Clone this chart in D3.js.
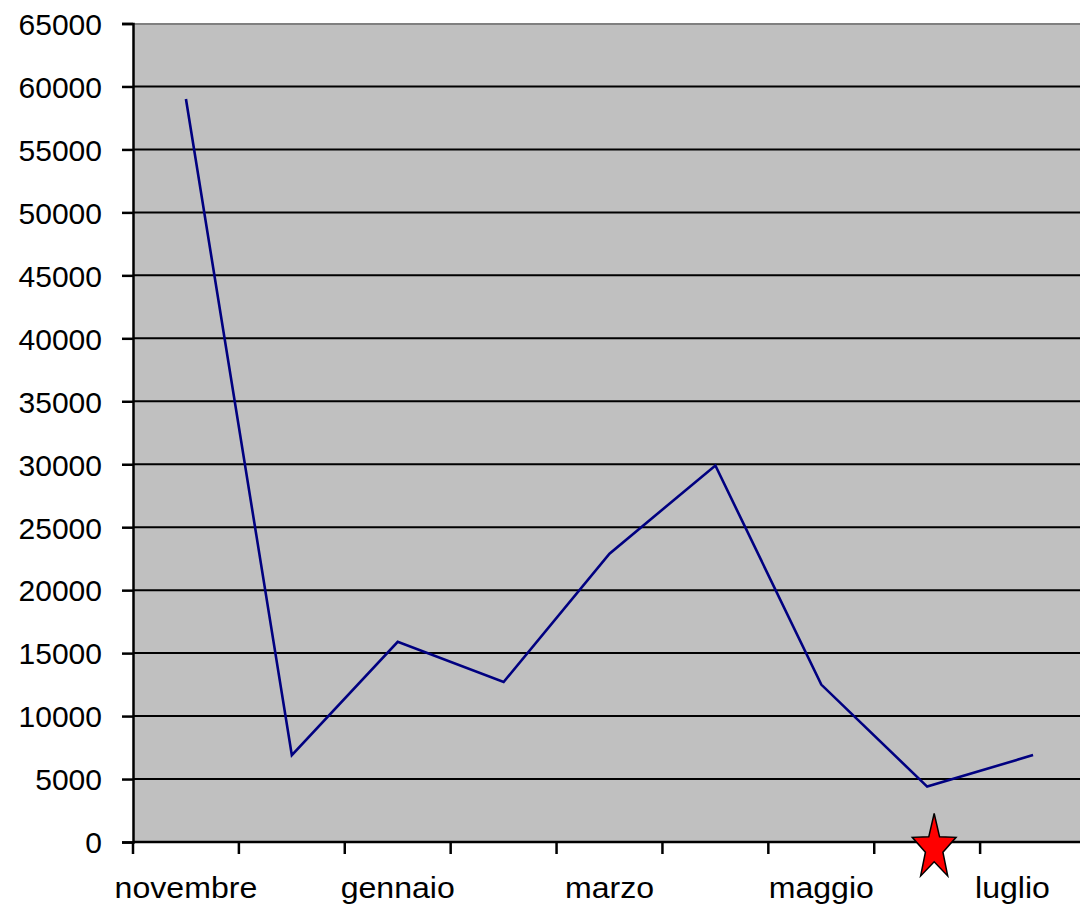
<!DOCTYPE html>
<html>
<head>
<meta charset="utf-8">
<script src="https://cdn.jsdelivr.net/npm/d3@7/dist/d3.min.js"></script>
<style>
  html, body { margin: 0; padding: 0; background: #ffffff; }
  svg { display: block; }
  text { font-family: "Liberation Sans", Arial, sans-serif; fill: #000; }
</style>
</head>
<body>
<svg id="chart" width="1080" height="912"></svg>
<script>
// Monthly values, November through July
const months = ["novembre", "dicembre", "gennaio", "febbraio", "marzo", "aprile", "maggio", "giugno", "luglio"];
const values = [59000, 6900, 15900, 12700, 22900, 29900, 12500, 4400, 6900];
const yTicks = [0, 5000, 10000, 15000, 20000, 25000, 30000, 35000, 40000, 45000, 50000, 55000, 60000, 65000];
const shownMonths = ["novembre", "gennaio", "marzo", "maggio", "luglio"];
const starMonth = "giugno";

const svg = d3.select("#chart");
const plotLeft = 133, plotRight = 1086, plotTop = 23.5, plotBottom = 842;
const labelLimit = 1050; // category labels stay left of this edge

const x = d3.scaleBand().domain(months).range([plotLeft, plotRight]).padding(0);
const y = d3.scaleLinear().domain([0, 65000]).range([plotBottom, plotTop]);
const cx = m => x(m) + x.bandwidth() / 2;

// plot area
svg.append("rect")
  .attr("x", plotLeft).attr("y", plotTop)
  .attr("width", plotRight - plotLeft).attr("height", plotBottom - plotTop)
  .attr("fill", "#c0c0c0");
svg.append("line")
  .attr("x1", plotLeft).attr("x2", plotRight)
  .attr("y1", plotTop + 0.5).attr("y2", plotTop + 0.5)
  .attr("stroke", "#808080").attr("stroke-width", 2);

// horizontal gridlines
svg.append("g").selectAll("line")
  .data(yTicks.filter(t => t > 0 && t < 65000))
  .join("line")
  .attr("x1", plotLeft).attr("x2", plotRight)
  .attr("y1", d => y(d)).attr("y2", d => y(d))
  .attr("stroke", "#000").attr("stroke-width", 2);

// y axis
const yAxis = svg.append("g")
  .attr("transform", `translate(${plotLeft},0)`)
  .call(d3.axisLeft(y).tickValues(yTicks).tickSize(11).tickPadding(20).tickFormat(d3.format("d")));
yAxis.select(".domain").attr("stroke", "#000").attr("stroke-width", 2.5);
yAxis.selectAll(".tick line").attr("stroke", "#000").attr("stroke-width", 2.5);
yAxis.selectAll(".tick text")
  .attr("font-size", 30)
  .attr("font-family", "'Liberation Sans', Arial, sans-serif")
  .attr("fill", "#000")
  .attr("dy", "0.36em");

// x axis: baseline and category separators
svg.append("line")
  .attr("x1", plotLeft).attr("x2", plotRight)
  .attr("y1", plotBottom).attr("y2", plotBottom)
  .attr("stroke", "#000").attr("stroke-width", 2.5);
svg.append("g").selectAll("line")
  .data(months)
  .join("line")
  .attr("x1", d => x(d)).attr("x2", d => x(d))
  .attr("y1", plotBottom).attr("y2", plotBottom + 12)
  .attr("stroke", "#000").attr("stroke-width", 2.5);

// category labels (every other month)
const labels = svg.append("g").selectAll("text")
  .data(shownMonths)
  .join("text")
  .attr("text-anchor", "middle")
  .attr("font-size", 30)
  .text(d => d);
labels.each(function (d) {
  const half = this.getComputedTextLength() * 1.07 / 2;
  const px = Math.min(cx(d), labelLimit - half);
  d3.select(this).attr("transform", `translate(${px},${plotBottom + 56}) scale(1.07,1)`);
});

// series line
const line = d3.line()
  .x((d, i) => cx(months[i]))
  .y(d => y(d));
svg.append("path")
  .datum(values)
  .attr("d", line)
  .attr("fill", "none")
  .attr("stroke", "#000080")
  .attr("stroke-width", 2.6)
  .attr("stroke-linejoin", "miter");

// star marker below the June point
const starPts = [];
for (let i = 0; i < 10; i++) {
  const a = -Math.PI / 2 + i * Math.PI / 5;
  const r = i % 2 === 0 ? 1 : 0.4;
  starPts.push([Math.cos(a) * r * 23, Math.sin(a) * r * 34.5]);
}
svg.append("path")
  .attr("transform", `translate(${cx(starMonth) + 7},${y(0) + 6})`)
  .attr("d", "M" + starPts.map(p => p.join(",")).join("L") + "Z")
  .attr("fill", "#ff0000")
  .attr("stroke", "#000")
  .attr("stroke-width", 1.5)
  .attr("stroke-linejoin", "miter");
</script>
</body>
</html>
